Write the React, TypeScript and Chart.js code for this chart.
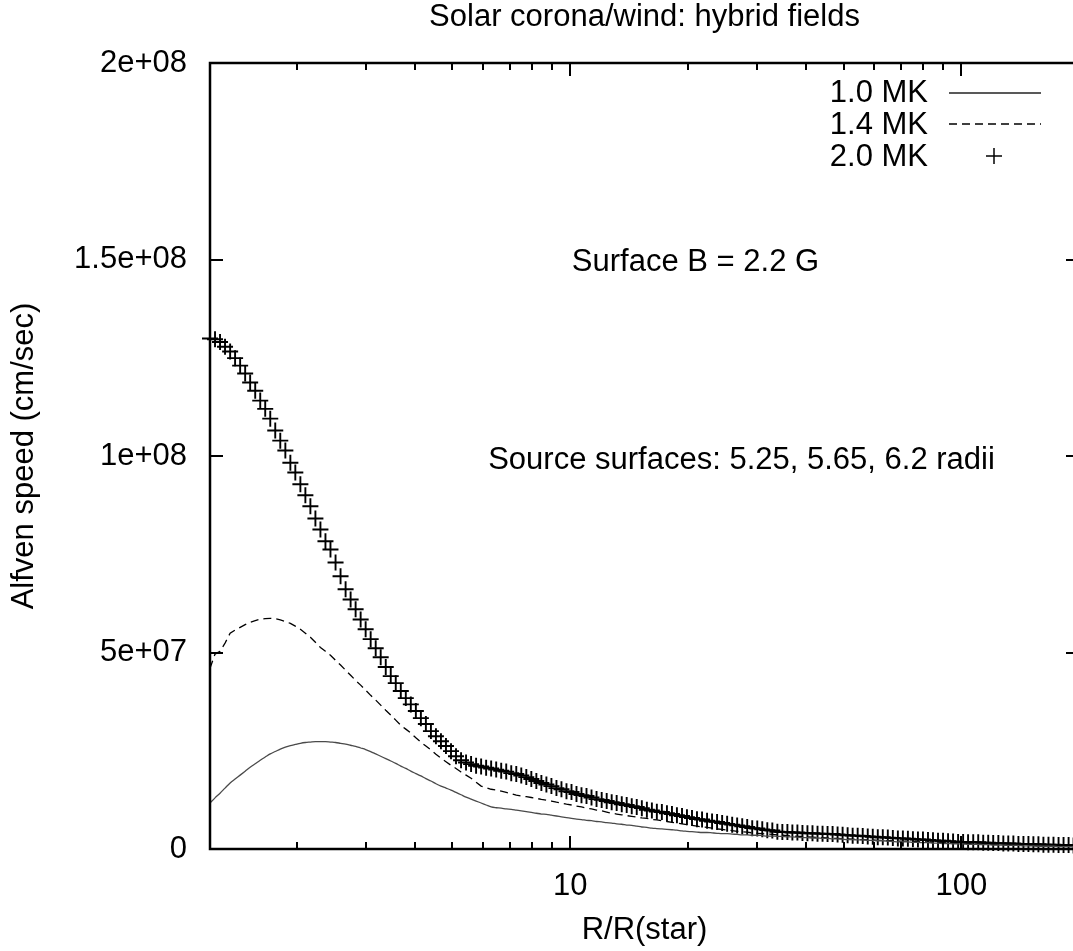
import React, { useEffect, useRef } from 'react';
import { Chart, registerables } from 'chart.js';

Chart.register(...registerables);

const FONT = '"Liberation Sans", Arial, Helvetica, sans-serif';
const FONT_SIZE = 31;

const chartTitle = 'Solar corona/wind: hybrid fields';
const xAxisTitle = 'R/R(star)';
const yAxisTitle = 'Alfven speed (cm/sec)';
const noteSurface = 'Surface B = 2.2 G';
const noteSource = 'Source surfaces: 5.25, 5.65, 6.2 radii';
const seriesLabels = ['1.0 MK', '1.4 MK', '2.0 MK'];

const xMin = 1.2;
const xMax = 200;
const yMin = 0;
const yMax = 2e8;
const xTickValues = [10, 100];
const xTickLabels = ['10', '100'];
const yTickValues = [0, 5e7, 1e8, 1.5e8, 2e8];
const yTickLabels = ['0', '5e+07', '1e+08', '1.5e+08', '2e+08'];
const yUnit = 1e7;

// radius grid R/R(star)
const rGrid = [
  1.200, 1.236, 1.273, 1.311, 1.351, 1.391, 1.433, 1.476, 1.520, 1.566,
  1.613, 1.661, 1.711, 1.762, 1.815, 1.870, 1.926, 1.983, 2.043, 2.104,
  2.167, 2.232, 2.299, 2.368, 2.439, 2.513, 2.588, 2.666, 2.746, 2.828,
  2.913, 3.000, 3.090, 3.183, 3.278, 3.377, 3.478, 3.582, 3.690, 3.800,
  3.914, 4.032, 4.153, 4.277, 4.406, 4.538, 4.674, 4.814, 4.959, 5.107,
  5.261, 5.418, 5.581, 5.748, 5.921, 6.098, 6.281, 6.470, 6.664, 6.864,
  7.070, 7.282, 7.500, 7.725, 7.957, 8.196, 8.442, 8.695, 8.956, 9.225,
  9.501, 9.786, 10.08, 10.38, 10.69, 11.01, 11.34, 11.68, 12.04, 12.40,
  12.77, 13.15, 13.55, 13.95, 14.37, 14.80, 15.25, 15.71, 16.18, 16.66,
  17.16, 17.68, 18.21, 18.75, 19.32, 19.89, 20.49, 21.10, 21.74, 22.39,
  23.06, 23.75, 24.47, 25.20, 25.96, 26.73, 27.54, 28.36, 29.21, 30.09,
  30.99, 31.92, 32.88, 33.87, 34.88, 35.93, 37.00, 38.11, 39.26, 40.43,
  41.65, 42.90, 44.19, 45.51, 46.88, 48.28, 49.73, 51.22, 52.76, 54.34,
  55.98, 57.66, 59.39, 61.17, 63.00, 64.89, 66.84, 68.85, 70.91, 73.04,
  75.23, 77.49, 79.81, 82.21, 84.67, 87.21, 89.83, 92.52, 95.30, 98.16,
  101.1, 104.1, 107.3, 110.5, 113.8, 117.2, 120.7, 124.4, 128.1, 131.9,
  135.9, 140.0, 144.2, 148.5, 152.9, 157.5, 162.2, 167.1, 172.1, 177.3,
  182.6, 188.1, 193.7, 199.5,
];

// Alfven speed, units of 1e7 cm/sec
const speed10MK = [
  1.17, 1.30, 1.42, 1.55, 1.68, 1.78, 1.88, 1.98, 2.08, 2.17,
  2.26, 2.34, 2.42, 2.48, 2.54, 2.59, 2.63, 2.66, 2.69, 2.71,
  2.72, 2.73, 2.73, 2.73, 2.72, 2.71, 2.69, 2.67, 2.64, 2.61,
  2.57, 2.53, 2.48, 2.42, 2.36, 2.30, 2.24, 2.18, 2.11, 2.05,
  1.98, 1.92, 1.86, 1.79, 1.73, 1.66, 1.60, 1.55, 1.50, 1.44,
  1.38, 1.32, 1.27, 1.22, 1.17, 1.12, 1.07, 1.05, 1.04, 1.02,
  1.01, 0.99, 0.97, 0.95, 0.93, 0.91, 0.89, 0.88, 0.86, 0.84,
  0.82, 0.80, 0.78, 0.76, 0.75, 0.73, 0.72, 0.70, 0.69, 0.67,
  0.66, 0.64, 0.63, 0.61, 0.60, 0.58, 0.56, 0.55, 0.53, 0.52,
  0.51, 0.50, 0.49, 0.48, 0.46, 0.45, 0.44, 0.43, 0.42, 0.42,
  0.41, 0.40, 0.39, 0.39, 0.38, 0.37, 0.36, 0.36, 0.35, 0.35,
  0.34, 0.33, 0.33, 0.32, 0.32, 0.31, 0.31, 0.30, 0.29, 0.29,
  0.28, 0.28, 0.27, 0.27, 0.26, 0.26, 0.25, 0.24, 0.24, 0.23,
  0.23, 0.22, 0.22, 0.21, 0.21, 0.20, 0.19, 0.18, 0.18, 0.18,
  0.17, 0.17, 0.16, 0.16, 0.15, 0.15, 0.14, 0.14, 0.13, 0.13,
  0.13, 0.12, 0.12, 0.12, 0.11, 0.11, 0.10, 0.10, 0.10, 0.09,
  0.09, 0.09, 0.08, 0.08, 0.08, 0.07, 0.07, 0.07, 0.07, 0.06,
  0.06, 0.06, 0.06, 0.05,
];

const speed14MK = [
  4.60, 4.96, 5.03, 5.24, 5.49, 5.57, 5.64, 5.71, 5.77, 5.81,
  5.85, 5.86, 5.87, 5.86, 5.83, 5.79, 5.74, 5.67, 5.59, 5.49,
  5.39, 5.26, 5.13, 5.03, 4.93, 4.80, 4.68, 4.55, 4.42, 4.29,
  4.17, 4.04, 3.91, 3.79, 3.66, 3.53, 3.41, 3.28, 3.15, 3.05,
  2.95, 2.83, 2.72, 2.62, 2.52, 2.41, 2.31, 2.22, 2.13, 2.05,
  1.96, 1.88, 1.80, 1.70, 1.60, 1.56, 1.52, 1.50, 1.47, 1.44,
  1.41, 1.37, 1.35, 1.33, 1.31, 1.29, 1.26, 1.24, 1.22, 1.19,
  1.17, 1.14, 1.12, 1.09, 1.07, 1.04, 1.02, 0.99, 0.97, 0.94,
  0.91, 0.89, 0.87, 0.85, 0.83, 0.81, 0.79, 0.78, 0.75, 0.74,
  0.72, 0.70, 0.68, 0.66, 0.64, 0.62, 0.60, 0.58, 0.56, 0.55,
  0.53, 0.51, 0.50, 0.48, 0.47, 0.45, 0.44, 0.43, 0.41, 0.40,
  0.39, 0.38, 0.37, 0.36, 0.35, 0.34, 0.33, 0.32, 0.32, 0.31,
  0.30, 0.29, 0.29, 0.28, 0.27, 0.27, 0.26, 0.26, 0.25, 0.24,
  0.24, 0.23, 0.23, 0.22, 0.22, 0.21, 0.21, 0.20, 0.20, 0.20,
  0.19, 0.19, 0.18, 0.18, 0.17, 0.17, 0.16, 0.16, 0.15, 0.15,
  0.14, 0.14, 0.13, 0.13, 0.12, 0.12, 0.12, 0.11, 0.11, 0.11,
  0.10, 0.10, 0.09, 0.09, 0.09, 0.08, 0.08, 0.08, 0.08, 0.07,
  0.07, 0.07, 0.06, 0.06,
];

const speed20MK = [
  12.99, 12.97, 12.90, 12.78, 12.66, 12.49, 12.30, 12.10, 11.87, 11.66,
  11.41, 11.20, 10.95, 10.65, 10.39, 10.14, 9.83, 9.58, 9.28, 9.00,
  8.72, 8.41, 8.13, 7.83, 7.62, 7.29, 6.94, 6.61, 6.35, 6.10,
  5.84, 5.59, 5.34, 5.11, 4.88, 4.63, 4.40, 4.22, 4.02, 3.84,
  3.68, 3.51, 3.33, 3.18, 3.00, 2.87, 2.74, 2.62, 2.49, 2.36,
  2.26, 2.20, 2.16, 2.12, 2.10, 2.07, 2.05, 2.02, 1.99, 1.97,
  1.93, 1.91, 1.87, 1.83, 1.78, 1.73, 1.68, 1.64, 1.60, 1.55,
  1.52, 1.47, 1.45, 1.40, 1.37, 1.35, 1.31, 1.27, 1.25, 1.22,
  1.19, 1.17, 1.14, 1.12, 1.09, 1.07, 1.04, 1.00, 0.98, 0.95,
  0.94, 0.91, 0.89, 0.86, 0.84, 0.81, 0.79, 0.76, 0.75, 0.72,
  0.70, 0.69, 0.66, 0.64, 0.62, 0.60, 0.58, 0.56, 0.53, 0.52,
  0.50, 0.48, 0.47, 0.44, 0.43, 0.43, 0.42, 0.42, 0.41, 0.40,
  0.40, 0.39, 0.39, 0.38, 0.38, 0.37, 0.36, 0.35, 0.34, 0.34,
  0.33, 0.32, 0.31, 0.30, 0.30, 0.29, 0.28, 0.27, 0.27, 0.26,
  0.25, 0.24, 0.24, 0.23, 0.22, 0.21, 0.21, 0.20, 0.19, 0.18,
  0.18, 0.17, 0.17, 0.17, 0.16, 0.16, 0.15, 0.15, 0.14, 0.14,
  0.14, 0.13, 0.13, 0.13, 0.12, 0.12, 0.11, 0.11, 0.11, 0.10,
  0.10, 0.10, 0.09, 0.09,
];

const CANVAS_W = 1100;
const CANVAS_H = 951;

export default function App() {
  const ref = useRef<HTMLCanvasElement>(null);

  useEffect(() => {
    const canvas = ref.current;
    if (!canvas) return;
    const toPoints = (ys: number[]) => rGrid.map((r, i) => ({ x: r, y: ys[i] * yUnit }));
    const font = `${FONT_SIZE}px ${FONT}`;

    const decorPlugin = {
      id: 'decor',
      afterDraw(chart: any) {
        const { ctx, chartArea: a, scales } = chart;
        const xs = scales.x;
        const ys = scales.y;
        ctx.save();
        ctx.strokeStyle = '#000';
        ctx.lineCap = 'butt';
        const seg = (x1: number, y1: number, x2: number, y2: number) => {
          ctx.beginPath();
          ctx.moveTo(x1, y1);
          ctx.lineTo(x2, y2);
          ctx.stroke();
        };
        // tick marks (inside, mirrored)
        ctx.lineWidth = 2;
        for (let d = 1; d <= 100; d *= 10) {
          for (let m = 1; m <= 9; m++) {
            const v = d * m;
            if (v <= xMin || v >= xMax) continue;
            const px = Math.round(xs.getPixelForValue(v));
            const len = m === 1 ? 13 : 7;
            seg(px, a.bottom, px, a.bottom - len);
            seg(px, a.top, px, a.top + len);
          }
        }
        yTickValues.forEach((v) => {
          if (v <= yMin || v >= yMax) return;
          const py = Math.round(ys.getPixelForValue(v));
          seg(a.left, py, a.left + 13, py);
          seg(a.right, py, a.right - 13, py);
        });
        // frame
        ctx.lineWidth = 2.5;
        ctx.strokeRect(a.left, a.top, a.right - a.left, a.bottom - a.top);

        // texts
        ctx.fillStyle = '#000';
        ctx.font = font;
        ctx.textBaseline = 'middle';
        ctx.textAlign = 'center';
        const cx = (a.left + a.right) / 2;
        ctx.fillText(chartTitle, cx, 17);
        ctx.fillText(xAxisTitle, cx, 930);
        ctx.fillText(noteSurface, 695.5, 262);
        ctx.fillText(noteSource, 741.5, 460);
        ctx.save();
        ctx.translate(24, (a.top + a.bottom) / 2);
        ctx.rotate(-Math.PI / 2);
        ctx.fillText(yAxisTitle, 0, 0);
        ctx.restore();

        // legend
        const rows = [93, 125, 157];
        ctx.textAlign = 'right';
        seriesLabels.forEach((lab, i) => ctx.fillText(lab, 928, rows[i]));
        ctx.lineWidth = 1.3;
        ctx.strokeStyle = '#222';
        seg(949, rows[0], 1041, rows[0]);
        ctx.strokeStyle = '#000';
        ctx.setLineDash([8, 5]);
        seg(949, rows[1] - 1, 1041, rows[1] - 1);
        ctx.setLineDash([]);
        ctx.lineWidth = 1.5;
        seg(986, rows[2] - 1, 1002, rows[2] - 1);
        seg(994, rows[2] - 9, 994, rows[2] + 7);
        ctx.restore();
      },
    };

    const chart = new Chart(canvas, {
      type: 'scatter',
      data: {
        datasets: [
          {
            label: seriesLabels[0],
            data: toPoints(speed10MK),
            showLine: true,
            borderColor: '#4a4a4a',
            borderWidth: 1.3,
            pointRadius: 0,
            cubicInterpolationMode: 'monotone',
          },
          {
            label: seriesLabels[1],
            data: toPoints(speed14MK),
            showLine: true,
            borderColor: '#000',
            borderWidth: 1.3,
            borderDash: [8, 5],
            pointRadius: 0,
            tension: 0,
          },
          {
            label: seriesLabels[2],
            data: toPoints(speed20MK),
            showLine: false,
            pointStyle: 'cross',
            pointRadius: 8,
            pointBorderWidth: 1.9,
            pointBorderColor: '#000',
            pointBackgroundColor: '#000',
            clip: false,
          } as any,
        ],
      },
      options: {
        responsive: false,
        animation: false,
        layout: { padding: { left: 0, right: CANVAS_W - 1079, top: 63, bottom: 0 } },
        plugins: {
          legend: { display: false },
          tooltip: { enabled: false },
          title: { display: false },
        },
        scales: {
          x: {
            type: 'logarithmic',
            position: 'bottom',
            min: xMin,
            max: xMax,
            grid: { display: false, drawTicks: false },
            border: { display: false },
            afterBuildTicks: (s: any) => {
              s.ticks = xTickValues.map((v) => ({ value: v }));
            },
            afterFit: (s: any) => {
              s.height = CANVAS_H - 849;
            },
            ticks: {
              autoSkip: false,
              maxRotation: 0,
              padding: 19,
              color: '#000',
              font: { family: FONT, size: FONT_SIZE },
              callback: (_v: any, i: number) => xTickLabels[i],
            },
          },
          y: {
            type: 'linear',
            min: yMin,
            max: yMax,
            grid: { display: false, drawTicks: false },
            border: { display: false },
            afterBuildTicks: (s: any) => {
              s.ticks = yTickValues.map((v) => ({ value: v }));
            },
            afterFit: (s: any) => {
              s.width = 210;
            },
            ticks: {
              autoSkip: false,
              padding: 23,
              color: '#000',
              font: { family: FONT, size: FONT_SIZE },
              callback: (_v: any, i: number) => yTickLabels[i],
            },
          },
        },
      } as any,
      plugins: [decorPlugin],
    });
    return () => chart.destroy();
  }, []);

  return (
    <div
      style={{
        position: 'fixed',
        left: 0,
        top: 0,
        width: 1073,
        height: 951,
        overflow: 'hidden',
        background: '#fff',
      }}
    >
      <canvas ref={ref} width={CANVAS_W} height={CANVAS_H} style={{ display: 'block' }} />
    </div>
  );
}
